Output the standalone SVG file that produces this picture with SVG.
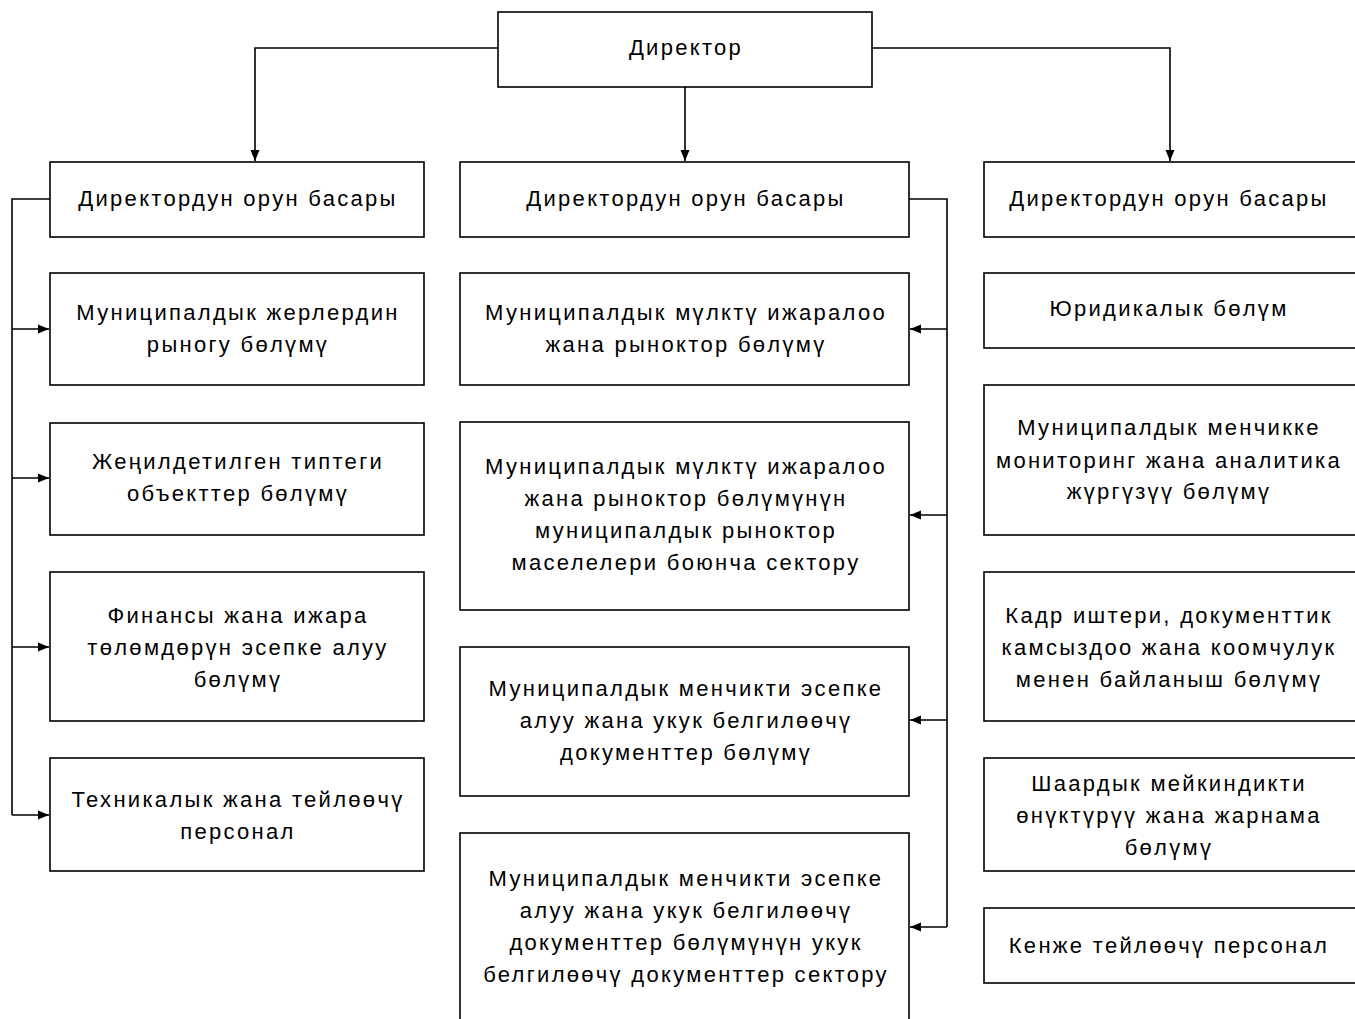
<svg xmlns="http://www.w3.org/2000/svg" width="1355" height="1019" viewBox="0 0 1355 1019">
<defs>
<marker id="ah" markerWidth="12" markerHeight="12" refX="11" refY="6" orient="auto" markerUnits="userSpaceOnUse">
<path d="M0,1.5 L11,6 L0,10.5 Z" fill="#000"/>
</marker>
<style>
rect{fill:#fff;stroke:#000;stroke-width:1.6}
text{font-family:"Liberation Sans",Arial,sans-serif;font-size:22px;fill:#000;text-anchor:middle;dominant-baseline:central;letter-spacing:2.3px}
.c{fill:none;stroke:#000;stroke-width:1.6}
</style>
</defs>
<rect x="0" y="0" width="1355" height="1019" style="fill:#fff;stroke:none"/>
<g id="connectors">
<path class="c" d="M498,48 H255 V161" marker-end="url(#ah)"/>
<path class="c" d="M685,87 V161" marker-end="url(#ah)"/>
<path class="c" d="M872,48 H1170 V161" marker-end="url(#ah)"/>
<path class="c" d="M50,199 H12 V815"/>
<path class="c" d="M12,329 H49" marker-end="url(#ah)"/>
<path class="c" d="M12,478 H49" marker-end="url(#ah)"/>
<path class="c" d="M12,647 H49" marker-end="url(#ah)"/>
<path class="c" d="M12,815 H49" marker-end="url(#ah)"/>
<path class="c" d="M909,199 H947 V927"/>
<path class="c" d="M947,329 H910" marker-end="url(#ah)"/>
<path class="c" d="M947,515 H910" marker-end="url(#ah)"/>
<path class="c" d="M947,720 H910" marker-end="url(#ah)"/>
<path class="c" d="M947,927 H910" marker-end="url(#ah)"/>
</g>
<g id="director"><rect x="498" y="12" width="374" height="75"/><text x="686" y="47">Директор</text></g>
<g id="deputy-left"><rect x="50" y="162" width="374" height="75"/><text x="238" y="198">Директордун орун басары</text></g>
<g id="left-2"><rect x="50" y="273" width="374" height="112"/><text x="238" y="312">Муниципалдык жерлердин</text><text x="238" y="344">рыногу бөлүмү</text></g>
<g id="left-3"><rect x="50" y="423" width="374" height="112"/><text x="238" y="461">Жеңилдетилген типтеги</text><text x="238" y="493">объекттер бөлүмү</text></g>
<g id="left-4"><rect x="50" y="572" width="374" height="149"/><text x="238" y="615">Финансы жана ижара</text><text x="238" y="647">төлөмдөрүн эсепке алуу</text><text x="238" y="679">бөлүмү</text></g>
<g id="left-5"><rect x="50" y="758" width="374" height="113"/><text x="238" y="799">Техникалык жана тейлөөчү</text><text x="238" y="831">персонал</text></g>
<g id="deputy-mid"><rect x="460" y="162" width="449" height="75"/><text x="686" y="198">Директордун орун басары</text></g>
<g id="mid-2"><rect x="460" y="273" width="449" height="112"/><text x="686" y="312">Муниципалдык мүлктү ижаралоо</text><text x="686" y="344">жана рыноктор бөлүмү</text></g>
<g id="mid-3"><rect x="460" y="422" width="449" height="188"/><text x="686" y="466">Муниципалдык мүлктү ижаралоо</text><text x="686" y="498">жана рыноктор бөлүмүнүн</text><text x="686" y="530">муниципалдык рыноктор</text><text x="686" y="562">маселелери боюнча сектору</text></g>
<g id="mid-4"><rect x="460" y="647" width="449" height="149"/><text x="686" y="688">Муниципалдык менчикти эсепке</text><text x="686" y="720">алуу жана укук белгилөөчү</text><text x="686" y="752">документтер бөлүмү</text></g>
<g id="mid-5"><rect x="460" y="833" width="449" height="200"/><text x="686" y="878">Муниципалдык менчикти эсепке</text><text x="686" y="910">алуу жана укук белгилөөчү</text><text x="686" y="942">документтер бөлүмүнүн укук</text><text x="686" y="974">белгилөөчү документтер сектору</text></g>
<g id="deputy-right"><rect x="984" y="162" width="380" height="75"/><text x="1169" y="198">Директордун орун басары</text></g>
<g id="right-2"><rect x="984" y="273" width="380" height="75"/><text x="1169" y="308">Юридикалык бөлүм</text></g>
<g id="right-3"><rect x="984" y="385" width="380" height="150"/><text x="1169" y="427">Муниципалдык менчикке</text><text x="1169" y="460">мониторинг жана аналитика</text><text x="1169" y="491">жүргүзүү бөлүмү</text></g>
<g id="right-4"><rect x="984" y="572" width="380" height="149"/><text x="1169" y="615">Кадр иштери, документтик</text><text x="1169" y="647">камсыздоо жана коомчулук</text><text x="1169" y="679">менен байланыш бөлүмү</text></g>
<g id="right-5"><rect x="984" y="758" width="380" height="113"/><text x="1169" y="783">Шаардык мейкиндикти</text><text x="1169" y="815">өнүктүрүү жана жарнама</text><text x="1169" y="847">бөлүмү</text></g>
<g id="right-6"><rect x="984" y="908" width="380" height="75"/><text x="1169" y="945">Кенже тейлөөчү персонал</text></g>
</svg>
